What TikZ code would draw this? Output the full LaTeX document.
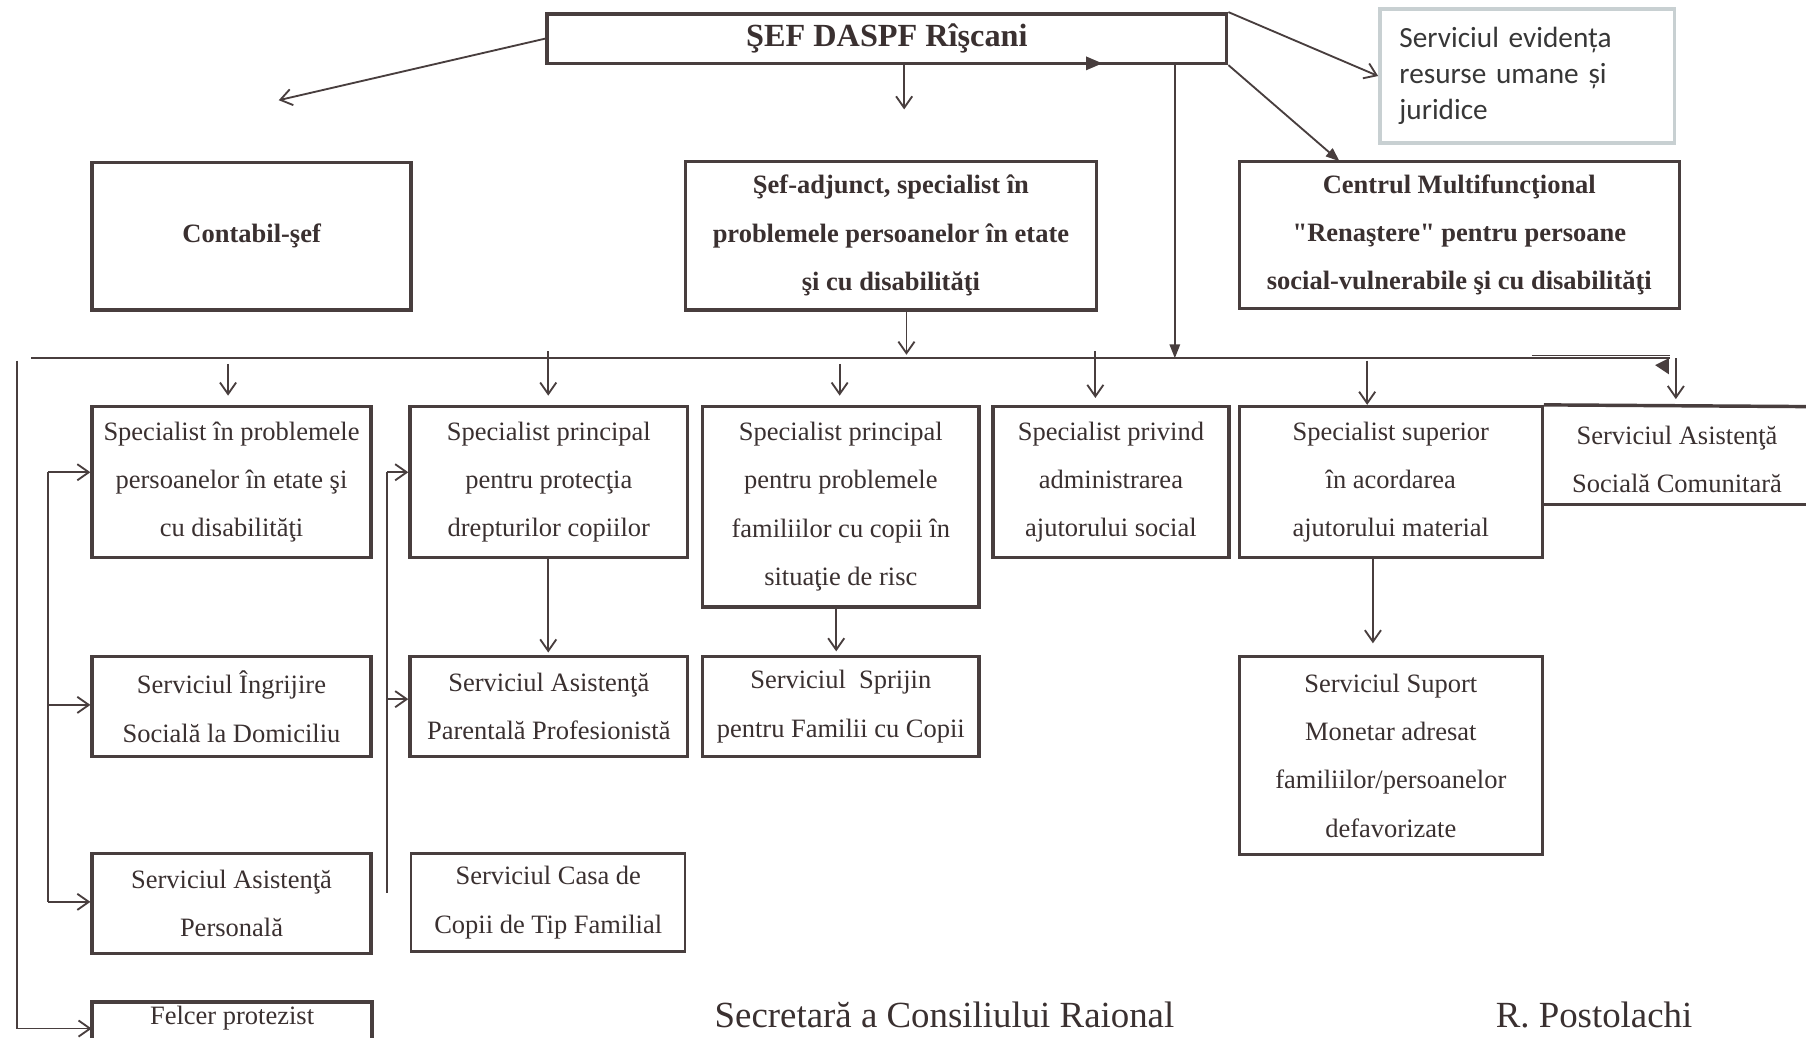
\documentclass[tikz,border=0pt]{standalone}
\usepackage{fontspec}
\setmainfont{Liberation Serif}[Ligatures=TeXOff]
\newfontfamily\sansE{Carlito}
\usetikzlibrary{arrows.meta,calc}
\definecolor{linec}{RGB}{72,62,62}
\definecolor{txtc}{RGB}{58,48,48}
\definecolor{greyb}{RGB}{200,208,210}
\definecolor{greyt}{RGB}{55,55,55}
\begin{document}
\begin{tikzpicture}[x=0.5pt,y=-0.5pt,
  txt/.style={inner sep=0pt, align=center, text=txtc, font=\fontsize{11.5}{21}\selectfont},
  box/.style={txt, draw=linec, line width=1.5pt},
  bbox/.style={box, font=\bfseries\fontsize{11.5}{21}\selectfont},
  boxline/.style={draw=linec, line width=1.5pt},
  conn/.style={draw=linec, line width=0.8pt},
  arr/.style={conn, -{Straight Barb[length=5pt,width=7pt]}},
  farr/.style={conn, -{Triangle[length=6pt,width=4.5pt]}},
]
\useasboundingbox (0,0) rectangle (1568,901);
\fill[white] (0,0) rectangle (1568,901);

% top level
\node[box, font=\bfseries\fontsize{14}{16}\selectfont, minimum width=295pt, minimum height=21.5pt] (T) at (770,33.5) {ŞEF DASPF Rîşcani};
\node[draw=greyb, line width=1.5pt, text=greyt, font=\sansE\fontsize{12.7}{15.5}\selectfont, align=left, text width=111pt, inner xsep=8.5pt, inner ysep=0pt, minimum height=58pt] (E) at (1326,66) {Serviciul evidența\\resurse umane și\\juridice};

\node[bbox, minimum width=138.5pt, minimum height=64pt] (C) at (218.5,205) {Contabil-şef};
\node[bbox, minimum width=178.5pt, minimum height=64.5pt] (A) at (773.5,204.5) {Şef-adjunct, specialist în\\problemele persoanelor în etate\\şi cu disabilităţi};
\node[bbox, minimum width=191pt, minimum height=64pt] (M) at (1267,204) {Centrul Multifuncţional\\"Renaştere" pentru persoane\\social-vulnerabile şi cu disabilităţi};

% row 1
\node[box, minimum width=121pt, minimum height=65.5pt] (S1) at (201,418.5) {Specialist în problemele\\persoanelor în etate şi\\cu disabilităţi};
\node[box, minimum width=120.5pt, minimum height=65.5pt] (S2) at (476.5,418.5) {Specialist principal\\pentru protecţia\\drepturilor copiilor};
\node[box, minimum width=120pt, minimum height=87pt] (S3) at (730,440) {Specialist principal\\pentru problemele\\familiilor cu copii în\\situaţie de risc};
\node[box, minimum width=102.5pt, minimum height=65.5pt] (S4) at (964.5,418.5) {Specialist privind\\administrarea\\ajutorului social};
\node[box, minimum width=131.5pt, minimum height=65.5pt] (S5) at (1207.5,418.5) {Specialist superior\\în acordarea\\ajutorului material};
\node[txt, minimum width=114.5pt] (S6) at (1456,399) {Serviciul Asistenţă\\Socială Comunitară};
\draw[boxline] (S5.north east) -- (1568,353);
\draw[boxline] (1339,438) -- (1568,438);

% row 2
\node[box, minimum width=121pt, minimum height=43.5pt] (R1) at (201,613.5) {Serviciul Îngrijire\\Socială la Domiciliu};
\node[box, minimum width=120.5pt, minimum height=43.5pt] (R2) at (476.5,613.5) {Serviciul Asistenţă\\Parentală Profesionistă};
\node[box, minimum width=120pt, minimum height=43.5pt] (R3) at (730,613.5) {Serviciul\ \ Sprijin\\pentru Familii cu Copii};
\node[box, minimum width=131.5pt, minimum height=86pt] (R4) at (1207.5,656) {Serviciul Suport\\Monetar adresat\\familiilor/persoanelor\\defavorizate};

% row 3
\node[box, minimum width=121pt, minimum height=43.5pt] (P1) at (201,784.5) {Serviciul Asistenţă\\Personală};
\node[box, line width=1pt, minimum width=119pt, minimum height=42.5pt] (P2) at (476,783.5) {Serviciul Casa de\\Copii de Tip Familial};

% row 4
\node[txt, minimum width=121.5pt] (F) at (201.5,884) {Felcer protezist};
\draw[boxline] (80,901) |- (323,870) -- (323,901);

% signature line
\node[anchor=base, text=txtc, font=\fontsize{16}{18}\selectfont] (sec) at (820,892) {Secretară a Consiliului Raional};
\node[anchor=base, text=txtc, font=\fontsize{16}{18}\selectfont] (pos) at (1384,892) {R. Postolachi};

% connectors from top
\coordinate (cA) at (242,87);
\draw[arr] (T.west) -- (cA);
\coordinate (cB) at (785,95);
\draw[arr] (T.south -| cB) -- (cB);
\coordinate (cD) at (1020,311);
\draw[farr] (T.south -| cD) -- (cD);
\draw[arr] (T.north east) -- (E.west);
\coordinate (cM) at (1163,140);
\draw[farr] (T.south east) -- (cM);
\fill[linec] (943,49) -- (957,55) -- (943,61) -- cycle;

% bus
\coordinate (busL) at (27,311);
\coordinate (busR) at (1450,311);
\draw[conn] (busL) -- (busR);
\draw[draw=linec, line width=0.5pt] (1330,308.5) -- (1450,308.5);
\fill[linec] (1437,317) -- (1449,311) -- (1449,325) -- cycle;
\coordinate (cE) at (787,308);
\draw[arr] (A.south -| cE) -- (cE);

% bus to row 1
\coordinate (b1) at (198,316);
\draw[arr, shorten >=4pt] (b1) -- (S1.north -| b1);
\coordinate (b2) at (476,305);
\draw[arr, shorten >=4pt] (b2) -- (S2.north -| b2);
\coordinate (b3) at (729,316);
\draw[arr, shorten >=4pt] (b3) -- (S3.north -| b3);
\coordinate (b4) at (951,305);
\draw[arr, shorten >=3pt] (b4) -- (S4.north -| b4);
\coordinate (b5) at (1187,313);
\draw[arr] (b5) -- (S5.north -| b5);
\coordinate (b6) at (1455,311);
\draw[arr, shorten >=2.5pt] (b6) -- (S5.north -| b6);

% row 1 to row 2
\coordinate (k2) at (476,0);
\draw[arr, shorten >=1pt] (S2.south -| k2) -- (R2.north -| k2);
\coordinate (k3) at (726,0);
\draw[arr, shorten >=1.5pt] (S3.south -| k3) -- (R3.north -| k3);
\coordinate (k5) at (1192,0);
\draw[arr, shorten >=5pt] (S5.south -| k5) -- (R4.north -| k5);

% left brackets
\coordinate (i1) at (42,410);
\coordinate (i2) at (42,612);
\coordinate (i3) at (42,783);
\draw[conn] (i1) -- (i3);
\draw[arr] (i1) -- (S1.west |- i1);
\draw[arr] (i2) -- (R1.west |- i2);
\draw[arr] (i3) -- (P1.west |- i3);

\coordinate (o1) at (15,313);
\coordinate (o2) at (15,893);
\draw[arr] (o1) -- (o2) -- (F.west |- o2);

\coordinate (j1) at (336,410);
\coordinate (j2) at (336,607);
\coordinate (j3) at (336,775);
\draw[conn] (j1) -- (j3);
\draw[arr] (j1) -- (S2.west |- j1);
\draw[arr] (j2) -- (R2.west |- j2);
\end{tikzpicture}
\end{document}
